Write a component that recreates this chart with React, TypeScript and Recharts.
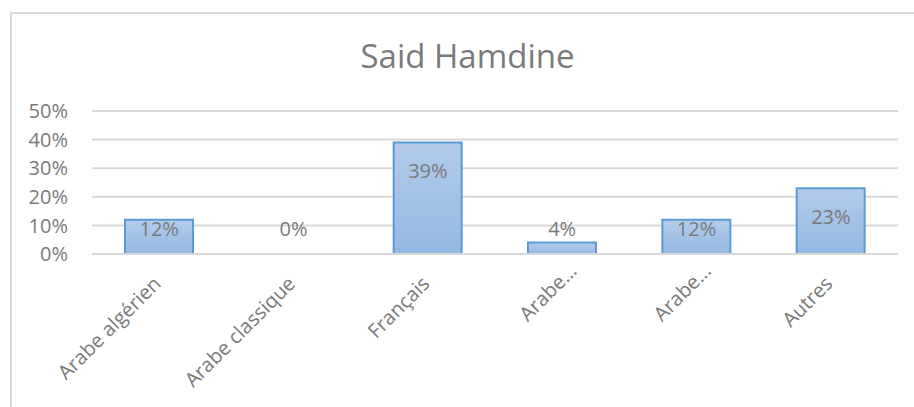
import React from 'react';
import { ComposedChart, Bar, Line, XAxis, YAxis, CartesianGrid, LabelList } from 'recharts';

const categories = ['Arabe algérien', 'Arabe classique', 'Français', 'Arabe…', 'Arabe…', 'Autres'];
const shares = [0.12, 0, 0.39, 0.04, 0.12, 0.23];
const yTicks = [0, 0.1, 0.2, 0.3, 0.4, 0.5];
const title = 'Said Hamdine';

const data = categories.map((name, i) => ({ name, value: shares[i] }));

const FONT = '"Open Sans", sans-serif';
const TEXT = '#7a7a7a';
const GRID = '#d9d9d9';

const W = 914;
const H = 407;
const X_AXIS_H = 153;
const PLOT_BOTTOM = H - X_AXIS_H;

const pct = (v: number) => `${Math.round(v * 100)}%`;

const XTick = (props: any) => {
  const { x, y, payload } = props;
  // Excel pushes the truncated labels a bit further along the slant
  const shift = String(payload.value).endsWith('…') ? 18 : 0;
  return (
    <g transform={`translate(${x + 3},${y + 31})`}>
      <text x={shift} transform="rotate(-45)" textAnchor="end" fill={TEXT} fontSize={20} fontFamily={FONT}>
        {payload.value}
      </text>
    </g>
  );
};

// labels sit inside the bar end, but never lower than a fixed distance over the axis
const BarLabel = (props: any) => {
  const { x, y, value } = props;
  const cy = Math.min(y + 28, PLOT_BOTTOM - 26);
  return (
    <text x={x} y={cy} textAnchor="middle" dominantBaseline="central"
      fill={TEXT} fontSize={20} fontFamily={FONT}>
      {pct(value)}
    </text>
  );
};

export default function App() {
  return (
    <div style={{ position: 'absolute', left: 0, top: 0, width: W, height: H, overflow: 'hidden', background: '#fff', fontFamily: FONT }}>
      <div style={{ position: 'absolute', left: 10, top: 12, width: 1000, height: 1000, borderTop: `2px solid ${GRID}`, borderLeft: `2px solid ${GRID}` }} />
      <svg width={W} height={H} style={{ position: 'absolute', left: 0, top: 0 }}>
        <text x={467.5} y={68} textAnchor="middle" fill={TEXT} fontSize={33} fontFamily={FONT}>{title}</text>
      </svg>
      <div style={{ position: 'absolute', left: 0, top: 0 }}>
        <ComposedChart width={W} height={H} data={data} margin={{ top: 111, right: 16, bottom: 0, left: 0 }}>
          <defs>
            <linearGradient id="barFill" x1="0" y1="0" x2="0" y2="1">
              <stop offset="0%" stopColor="#b3cbea" />
              <stop offset="100%" stopColor="#94b8e3" />
            </linearGradient>
          </defs>
          <CartesianGrid horizontal vertical={false} stroke={GRID} strokeWidth={2} />
          <XAxis dataKey="name" interval={0} height={X_AXIS_H} tickLine={false} tickSize={0} tickMargin={0}
            axisLine={{ stroke: GRID, strokeWidth: 2 }} tick={<XTick />} />
          <YAxis width={92} domain={[0, 0.5]} ticks={yTicks} tickFormatter={pct} axisLine={false} tickLine={false}
            tickSize={0} tickMargin={24} tick={{ fill: TEXT, fontSize: 20, fontFamily: FONT }} />
          <Bar dataKey="value" fill="url(#barFill)" stroke="#5b9bd5" strokeWidth={2} barSize={68} isAnimationActive={false} />
          <Line dataKey="value" stroke="none" dot={false} activeDot={false} isAnimationActive={false}>
            <LabelList dataKey="value" content={<BarLabel />} />
          </Line>
        </ComposedChart>
      </div>
    </div>
  );
}
